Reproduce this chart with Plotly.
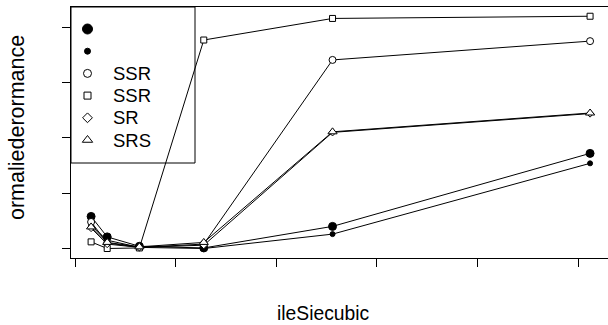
import plotly.graph_objects as go

# ---- data ----
x_vals = [0.8, 1.6, 3.2, 6.4, 12.8, 25.6]
big_dot = [0.58, 0.21, 0.04, 0.01, 0.40, 1.72]
small_dot = [0.42, 0.15, 0.02, 0.00, 0.26, 1.54]
ssr_circle = [0.48, 0.10, 0.02, 0.08, 3.41, 3.75]
ssr_square = [0.12, 0.00, 0.01, 3.77, 4.16, 4.20]
sr_diamond = [0.37, 0.08, 0.02, 0.06, 2.10, 2.44]
srs_triangle = [0.39, 0.11, 0.03, 0.11, 2.11, 2.45]

legend_labels = ["", "", "SSR", "SSR", "SR", "SRS"]
x_ticks = [0, 5, 10, 15, 20, 25]
y_ticks = [0, 1, 2, 3, 4]
x_title = "ileSiecubic"
y_title = "ormaliederormance"

FONT = "Liberation Sans, Arial, sans-serif"
FS = 18.5

series = [
    (big_dot, "circle", "black", 8, 10),
    (small_dot, "circle", "black", 5, 6),
    (ssr_circle, "circle", "white", 7, 8),
    (ssr_square, "square", "white", 6, 7),
    (sr_diamond, "diamond", "white", 5.5, 7.5),
    (srs_triangle, "triangle-up", "white", 8, 9),
]

fig = go.Figure()
for (vals, sym, fill, sz, _), lab in zip(series, legend_labels):
    fig.add_trace(go.Scatter(
        x=x_vals, y=vals, mode="lines+markers",
        line=dict(color="black", width=1),
        marker=dict(symbol=sym, size=sz, color=fill,
                    line=dict(color="black", width=1)),
        showlegend=False, name=lab, xaxis="x", yaxis="y"))

# ---- legend drawn in a pixel-space overlay axis ----
W, H = 608, 325
L, R, T, B = 71, 608, 7, 258
leg_right, leg_bottom = 195, 163
leg_sym_x, leg_txt_x = 87.5, 110.5
row0, row_gap = 29, 22.2
for i, ((vals, sym, fill, _, lsz), lab) in enumerate(zip(series, legend_labels)):
    yy = row0 + i * row_gap
    fig.add_trace(go.Scatter(
        x=[leg_sym_x], y=[yy], mode="markers",
        marker=dict(symbol=sym, size=lsz, color=fill,
                    line=dict(color="black", width=1)),
        showlegend=False, xaxis="x2", yaxis="y2", hoverinfo="skip"))
    if lab:
        fig.add_annotation(x=leg_txt_x, y=yy, xref="x2", yref="y2", text=lab,
                           showarrow=False, xanchor="left", yanchor="middle",
                           font=dict(family=FONT, size=FS, color="black"))

fig.add_shape(type="rect", xref="x2", yref="y2", x0=L, x1=leg_right, y0=T, y1=leg_bottom,
              line=dict(color="black", width=1), fillcolor="rgba(0,0,0,0)")

px_per_x = 20.12
px_per_y = 55.3
x0_px = 75
y0_px = 248.5

fig.update_layout(
    width=W, height=H,
    margin=dict(l=L, r=W - R, t=T, b=H - B, pad=0),
    paper_bgcolor="white", plot_bgcolor="white",
    font=dict(family=FONT, size=FS, color="black"),
    xaxis=dict(range=[(L - x0_px) / px_per_x, (R - x0_px) / px_per_x],
               tickvals=x_ticks, showticklabels=False, ticks="outside",
               ticklen=8, tickwidth=1, tickcolor="black",
               showline=True, linecolor="black", linewidth=1, mirror=True,
               showgrid=False, zeroline=False),
    yaxis=dict(range=[(y0_px - B) / px_per_y, (y0_px - T) / px_per_y],
               tickvals=y_ticks, showticklabels=False, ticks="outside",
               ticklen=8, tickwidth=1, tickcolor="black",
               showline=True, linecolor="black", linewidth=1, mirror=False,
               showgrid=False, zeroline=False),
    xaxis2=dict(range=[L, R], overlaying="x", visible=False, fixedrange=True),
    yaxis2=dict(range=[B, T], overlaying="y", visible=False, fixedrange=True),
)

fig.add_annotation(text=x_title, xref="paper", yref="paper",
                   x=(323 - L) / (R - L), y=(B - 313) / (B - T),
                   xanchor="center", yanchor="middle", showarrow=False,
                   font=dict(family=FONT, size=19.3, color="black"))
fig.add_annotation(text=y_title, xref="paper", yref="paper",
                   x=(17 - L) / (R - L), y=(B - 128) / (B - T),
                   xanchor="center", yanchor="middle", showarrow=False, textangle=-90,
                   font=dict(family=FONT, size=21.5, color="black"))

fig.write_html("out.html", config={"displayModeBar": False},
               post_script="document.body.style.margin='0';document.body.style.overflow='hidden';")
